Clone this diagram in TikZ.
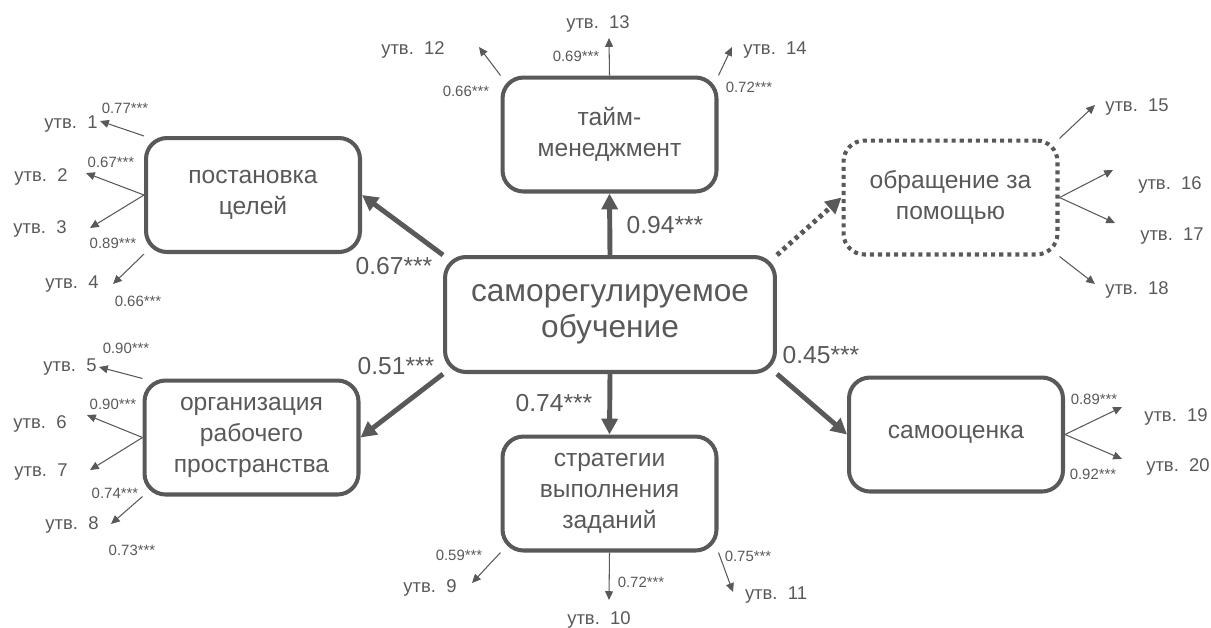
\documentclass[tikz,border=0pt]{standalone}
\usepackage{fontspec}
\setmainfont{Liberation Sans}
\usetikzlibrary{arrows.meta}
\definecolor{ink}{HTML}{595959}

\begin{document}
\begin{tikzpicture}[x=0.02cm, y=-0.02cm, color=ink, text=ink,
    factor/.style={draw, line width=2.3pt, rounded corners=0.42cm, minimum width=4.28cm,
        minimum height=2.28cm, align=center, font=\fontsize{14}{17.8}\selectfont},
    central/.style={factor, minimum width=6.6cm, minimum height=2.3cm,
        font=\fontsize{18}{20.6}\selectfont},
    hidden/.style={factor, dash pattern=on 2.3pt off 2.3pt},
    link/.style={line width=2.8pt, -{Triangle[length=9pt, width=9pt]}},
    weak/.style={link, dash pattern=on 2.3pt off 2.3pt},
    arr/.style={line width=0.6pt, -{Triangle[length=5pt, width=4.5pt]}},
    item/.style={font=\fontsize{10.5}{12}\selectfont, inner sep=0pt, text height=0.7em, text depth=0pt},
    load/.style={font=\fontsize{8.5}{10}\selectfont, inner sep=0pt, text height=0.7em, text depth=0pt},
    coef/.style={font=\fontsize{14}{16}\selectfont, inner sep=0pt, text height=0.7em, text depth=0pt}]
    \useasboundingbox (0,0) rectangle (1211,627);

    \node[central] (main) at (610,314.5) {саморегулируемое\\обучение};
    \node[factor] (goal) at (253,195) {постановка\\целей};
    \node[factor] (time) at (609.5,134.5) {тайм-\\менеджмент};
    \node[hidden] (help) at (950.5,197.5) {обращение за\\помощью};
    \node[factor] (work) at (251.5,437.5) {организация\\рабочего\\пространства};
    \node[factor] (task) at (609.5,493.5) {стратегии\\выполнения\\заданий};
    \node[factor] (self) at (956,434.5) {самооценка};

    \draw[link] (main.north west) -- (goal.east);
    \draw[link] (main.north) -- (time.south);
    \draw[weak] (main.north east) -- (help.west);
    \draw[link] (main.south west) -- (work.east);
    \draw[link] (main.south) -- (task.north);
    \draw[link] (main.south east) -- (self.west);

    \node[coef] (c1) at (394,268) {0.67***};
    \node[coef] (c2) at (665,227) {0.94***};
    \node[coef] (c3) at (396,368) {0.51***};
    \node[coef] (c4) at (554,405) {0.74***};
    \node[coef] (c5) at (821,357) {0.45***};

    \foreach \n/\src/\tx/\ty/\lx/\ly in {
        1/goal.north west/100/121/71/122,
        2/goal.west/86/173/41/175,
        3/goal.west/90/228/40/227,
        4/goal.south west/113/284/72/282,
        5/work.north west/99/367/70/365,
        6/work.west/87/415/40/422,
        7/work.west/90/470/41/470,
        8/work.south west/111/524/72/523,
        9/task.south west/472/583/430/586,
        10/task.south/609/600/599/618,
        11/task.south east/733/592/776/593,
        12/time.north west/479/47/413/48,
        13/time.north/609/38/598/22,
        14/time.north east/732/47/775/48,
        15/help.north east/1095/105/1137/105,
        16/help.east/1113/170/1170/183,
        17/help.east/1115/223/1172/234,
        18/help.south east/1095/284/1137/288,
        19/self.east/1122/407/1176/415,
        20/self.east/1122/459/1178/465} {
        \coordinate (t\n) at (\tx,\ty);
        \node[item] (u\n) at (\lx,\ly) {утв.~~\n};
        \draw[arr] (\src) -- (t\n);
    }

    \foreach \c/\cx/\cy [count=\k] in {0.77/125/107, 0.67/111/161, 0.89/113/242, 0.66/138/300,
        0.90/126/347, 0.90/113/403, 0.74/115/492, 0.73/132/549,
        0.59/459/554, 0.72/641/581, 0.75/748/555,
        0.66/466/90, 0.69/576/55, 0.72/749/86,
        0.89/1094/398, 0.92/1093/473} {
        \node[load] (l\k) at (\cx,\cy) {\c***};
    }
\end{tikzpicture}
\end{document}
